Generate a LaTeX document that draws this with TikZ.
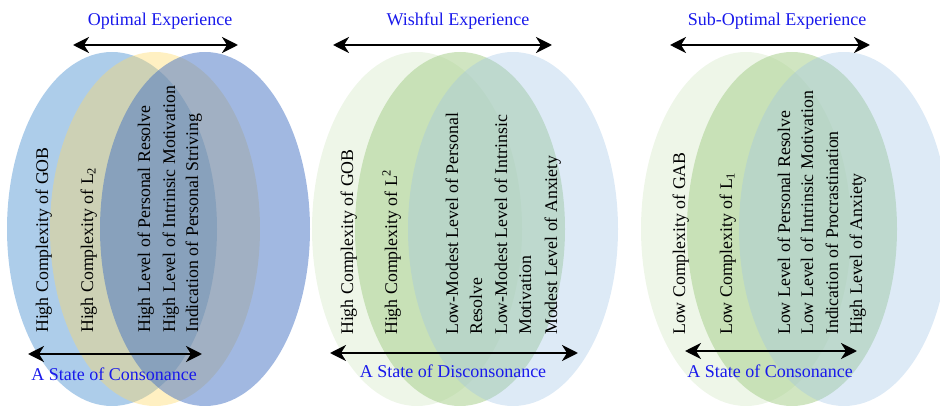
\documentclass[tikz,border=0pt]{standalone}
\usepackage{fontspec}
\setmainfont{Liberation Serif}
\usetikzlibrary{arrows.meta}
\definecolor{bluea}{RGB}{91,155,213}
\definecolor{yellowb}{RGB}{255,217,102}
\definecolor{bluec}{RGB}{68,114,196}
\definecolor{greenp}{RGB}{169,208,142}
\definecolor{bluep}{RGB}{157,195,230}
\definecolor{titleblue}{RGB}{25,25,235}
\tikzset{
  vtext/.style={rotate=90, anchor=base west, inner sep=0pt, font=\fontsize{17.8}{20}\selectfont, text=black},
  titletext/.style={anchor=base, inner sep=0pt, font=\fontsize{18}{20}\selectfont, text=titleblue},
  dblarrow/.style={{Stealth[length=16pt,width=16pt,inset=5pt]}-{Stealth[length=16pt,width=16pt,inset=5pt]}, line width=2.6pt, black},
  ell/.style={x radius=105pt, y radius=177pt}
}
\begin{document}
\begin{tikzpicture}[x=1pt,y=-1pt]
\useasboundingbox (0,0) rectangle (940,406);
\clip (0,0) rectangle (940,406);
% group 1 ellipses
\fill[bluea, fill opacity=0.5] (112,229) ellipse [ell];
\fill[yellowb, fill opacity=0.4] (155,229) ellipse [ell];
\fill[bluec, fill opacity=0.5] (205,229) ellipse [ell];
% group 2 ellipses
\fill[greenp, fill opacity=0.2] (417,229) ellipse [ell];
\fill[greenp, fill opacity=0.55] (460,229) ellipse [ell];
\fill[bluep, fill opacity=0.35] (513,229) ellipse [ell];
% group 3 ellipses
\fill[greenp, fill opacity=0.2] (746,229) ellipse [ell];
\fill[greenp, fill opacity=0.55] (792,229) ellipse [ell];
\fill[bluep, fill opacity=0.35] (844,229) ellipse [ell];

% titles
\node[titletext] (t1) at (160,26) {Optimal Experience};
\node[titletext] (t2) at (458,26) {Wishful Experience};
\node[titletext] (t3) at (777,26) {Sub-Optimal Experience};
\node[titletext] (b1) at (114,380) {A State of Consonance};
\node[titletext] (b2) at (453,377) {A State of Disconsonance};
\node[titletext] (b3) at (770,377) {A State of Consonance};

% arrows
\coordinate (a1l) at (73,45);  \coordinate (a1r) at (238,45);
\coordinate (a2l) at (333,45); \coordinate (a2r) at (552,45);
\coordinate (a3l) at (670,45); \coordinate (a3r) at (870,45);
\coordinate (c1l) at (28,354); \coordinate (c1r) at (202,354);
\coordinate (c2l) at (330,353); \coordinate (c2r) at (578,353);
\coordinate (c3l) at (685,351); \coordinate (c3r) at (857,351);
\draw[dblarrow] (a1l) -- (a1r);
\draw[dblarrow] (a2l) -- (a2r);
\draw[dblarrow] (a3l) -- (a3r);
\draw[dblarrow] (c1l) -- (c1r);
\draw[dblarrow] (c2l) -- (c2r);
\draw[dblarrow] (c3l) -- (c3r);

% group 1 texts
\node[vtext] (g1a) at (48,333) {High Complexity of GOB};
\node[vtext] (g1b) at (93,333) {High Complexity of L\textsubscript{2}};
\node[vtext] (g1c) at (150,333) {High Level of Personal Resolve};
\node[vtext] (g1d) at (175,333) {High Level of Intrinsic Motivation};
\node[vtext] (g1e) at (198,333) {Indication of Personal Striving};
% group 2 texts
\node[vtext] (g2a) at (353,335) {High Complexity of GOB};
\node[vtext] (g2b) at (397,335) {High Complexity of L\textsuperscript{2}};
\node[vtext] (g2c) at (458,335) {Low-Modest Level of Personal};
\node[vtext] (g2d) at (482,335) {Resolve};
\node[vtext] (g2e) at (507,335) {Low-Modest Level of Intrinsic};
\node[vtext] (g2f) at (531,335) {Motivation};
\node[vtext] (g2g) at (557,335) {Modest Level of Anxiety};
% group 3 texts
\node[vtext] (g3a) at (685,335) {Low Complexity of GAB};
\node[vtext] (g3b) at (732,335) {Low Complexity of L\textsubscript{1}};
\node[vtext] (g3c) at (790,335) {Low Level of Personal Resolve};
\node[vtext] (g3d) at (813,335) {Low Level of Intrinsic Motivation};
\node[vtext] (g3e) at (838,335) {Indication of Procrastination};
\node[vtext] (g3f) at (862,335) {High Level of Anxiety};
\end{tikzpicture}
\end{document}
